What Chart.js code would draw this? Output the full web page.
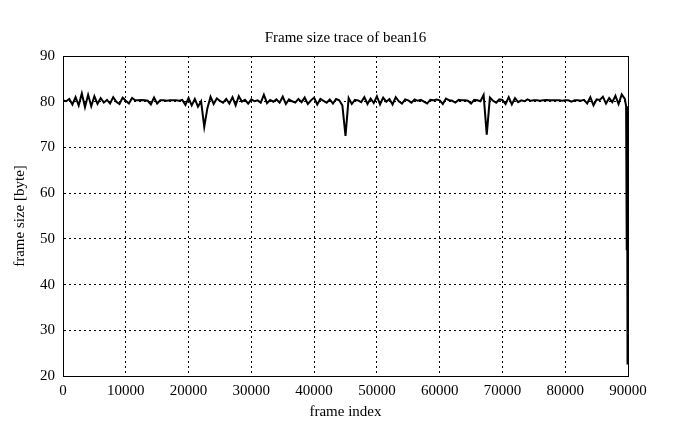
<!DOCTYPE html>
<html>
<head>
<meta charset="utf-8">
<script src="https://cdn.jsdelivr.net/npm/chart.js@4/dist/chart.umd.min.js"></script>
<style>
  html, body { margin: 0; padding: 0; background: #fff; }
  #wrap { width: 695px; height: 429px; }
</style>
</head>
<body>
<div id="wrap"><canvas id="trace"></canvas></div>
<script>
// Frame size trace of bean16, one sample every 500 frames
const frameStep = 500;
const frameSizes = [
  80.3, 80.1, 80.6, 79.4, 81.0, 79.2, 81.8, 78.8, 81.5, 79.0,
  81.2, 79.5, 80.8, 79.8, 80.4, 79.6, 81.0, 80.0, 79.5, 80.9,
  80.2, 79.6, 80.8, 80.3, 80.3, 80.4, 80.3, 80.2, 79.4, 80.9,
  79.6, 80.3, 80.3, 80.2, 80.3, 80.3, 80.3, 80.2, 80.4, 79.3,
  80.8, 79.2, 80.6, 78.9, 80.1, 74.5, 78.6, 81.1, 79.5, 80.7,
  80.2, 79.8, 80.6, 79.6, 81.0, 79.2, 81.2, 80.0, 80.4, 79.6,
  80.5, 80.1, 80.3, 79.8, 81.5, 79.7, 80.4, 80.0, 80.5, 79.8,
  81.1, 79.5, 80.5, 80.1, 79.8, 80.6, 79.9, 80.9, 79.5, 80.3,
  80.9, 79.4, 80.6, 80.2, 79.8, 80.5, 79.6, 80.6, 80.3, 79.2,
  72.5, 80.8, 79.5, 80.4, 80.3, 79.9, 81.0, 79.5, 80.7, 79.7,
  81.2, 79.4, 80.9, 80.0, 80.6, 79.4, 81.0, 80.1, 79.6, 80.5,
  80.3, 79.8, 80.5, 80.2, 80.4, 80.0, 79.6, 80.4, 80.3, 80.5,
  80.3, 79.5, 80.7, 80.3, 80.2, 79.8, 80.4, 80.3, 80.3, 80.2,
  79.6, 80.4, 80.3, 80.1, 81.5, 72.8, 80.9, 80.2, 79.8, 80.5,
  80.4, 79.5, 81.0, 79.4, 80.8, 79.9, 80.3, 80.1, 80.5, 80.2,
  80.3, 80.3, 80.2, 80.3, 80.4, 80.3, 80.3, 80.3, 80.3, 80.2,
  80.3, 80.3, 80.0, 80.3, 80.3, 80.2, 80.4, 79.6, 81.0, 79.2,
  80.5, 80.4, 81.1, 79.6, 80.8, 79.9, 81.3, 79.5, 81.6, 80.6
];
// the last frames of the trace, where the size collapses
const tailFrames = [89700, 89800, 89850, 89900, 89950, 90000];
const tailSizes  = [79.0, 47.5, 79.0, 22.5, 32.5, 22.8];

const xTicks = [0, 10000, 20000, 30000, 40000, 50000, 60000, 70000, 80000, 90000];
const yTicks = [20, 30, 40, 50, 60, 70, 80, 90];
const chartTitle = 'Frame size trace of bean16';

const points = frameSizes.map((v, i) => ({ x: i * frameStep, y: v }))
  .concat(tailFrames.map((f, i) => ({ x: f, y: tailSizes[i] })));

const serif = "'Liberation Serif', 'DejaVu Serif', serif";

// title centred over the plot area and a solid frame round it, like gnuplot does
const plotFrame = {
  id: 'plotFrame',
  beforeDatasetsDraw(chart) {
    const { ctx, chartArea: a } = chart;
    ctx.save();
    ctx.strokeStyle = '#000';
    ctx.lineWidth = 1;
    ctx.strokeRect(Math.round(a.left) + 0.5, Math.round(a.top) + 0.5,
      Math.round(a.right - a.left), Math.round(a.bottom - a.top));
    ctx.restore();
  },
  afterDraw(chart) {
    const { ctx, chartArea } = chart;
    ctx.save();
    ctx.fillStyle = '#000';
    ctx.font = '15px ' + serif;
    ctx.textAlign = 'center';
    ctx.textBaseline = 'middle';
    ctx.fillText(chartTitle, (chartArea.left + chartArea.right) / 2, 38);
    ctx.restore();
  }
};

new Chart(document.getElementById('trace').getContext('2d'), {
  type: 'line',
  data: {
    datasets: [{
      data: points,
      borderColor: '#000',
      borderWidth: 2,
      pointRadius: 0,
      tension: 0,
      fill: false
    }]
  },
  options: {
    responsive: true,
    maintainAspectRatio: false,
    animation: false,
    layout: { padding: { left: 11, right: 67, top: 56, bottom: 8 } },
    plugins: {
      legend: { display: false },
      tooltip: { enabled: false },
      title: { display: false }
    },
    scales: {
      x: {
        type: 'linear',
        min: 0,
        max: 90000,
        afterBuildTicks: s => { s.ticks = xTicks.map(v => ({ value: v })); },
        afterFit: s => { s.height = 45; },
        grid: { color: '#000', lineWidth: 1, drawTicks: false },
        border: { display: true, color: '#000', width: 1, dash: [2, 3] },
        ticks: {
          color: '#000',
          font: { family: serif, size: 15 },
          padding: 6,
          maxRotation: 0,
          callback: v => String(v)
        },
        title: {
          display: true,
          text: 'frame index',
          color: '#000',
          font: { family: serif, size: 15 },
          padding: { top: 0, bottom: 0 }
        }
      },
      y: {
        min: 20,
        max: 90,
        afterBuildTicks: s => { s.ticks = yTicks.map(v => ({ value: v })); },
        afterFit: s => { s.width = 52; },
        grid: { color: '#000', lineWidth: 1, drawTicks: false },
        border: { display: true, color: '#000', width: 1, dash: [2, 3] },
        ticks: {
          color: '#000',
          font: { family: serif, size: 15 },
          padding: 8
        },
        title: {
          display: true,
          text: 'frame size [byte]',
          color: '#000',
          font: { family: serif, size: 15 },
          padding: { top: 0, bottom: 4 }
        }
      }
    }
  },
  plugins: [plotFrame]
});
</script>
</body>
</html>
